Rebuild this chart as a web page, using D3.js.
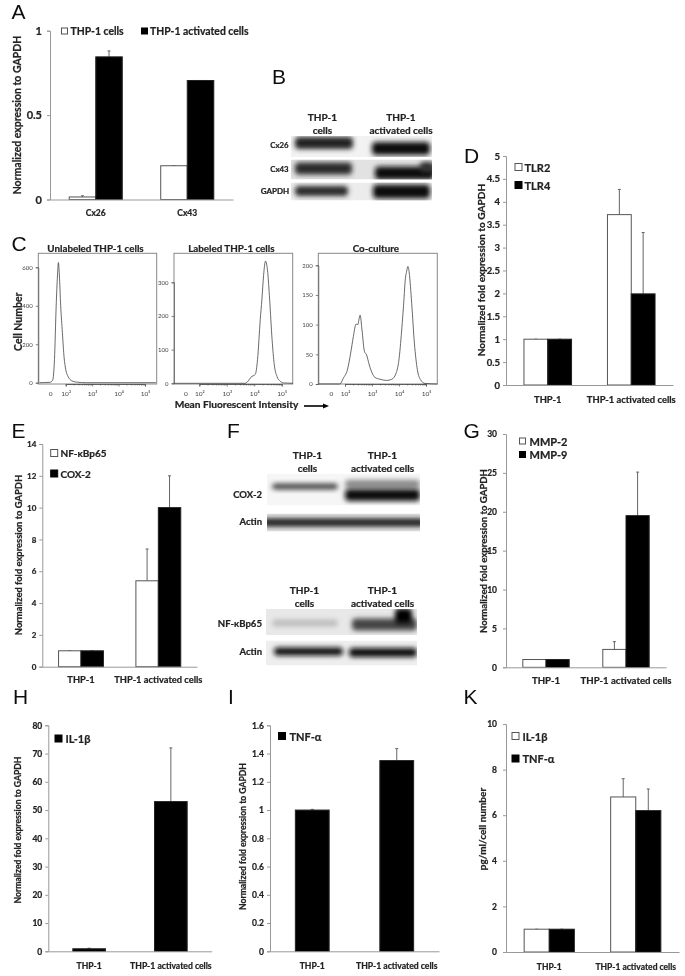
<!DOCTYPE html>
<html>
<head>
    <style>
        html,
        body {
            width: 100%;
            height: 100%;
            margin: 0;
            padding: 0;
            overflow: hidden;
            background: #fff;
        }
        text {
            font-family: Lato, "Open Sans", sans-serif;
            font-weight: 700;
            fill: #222;
            stroke: #222;
            stroke-width: 0.22px;
        }
    </style>
</head>
<body>
<script src="https://d3js.org/d3.v7.min.js"></script>
<script>
    const width = 685;
    const height = 976;

    // A
    const cxCategories = ["Cx26", "Cx43"];
    const cxSeries = ["THP-1 cells", "THP-1 activated cells"];
    const cxValues = [[0.015, 0.2], [0.845, 0.705]];
    const cxErrors = [[0.022, 0.2], [0.88, 0.705]];
    const cxTicks = [0, 0.5, 1];

    const cellCategories = ["THP-1", "THP-1 activated cells"];

    // D
    const tlrSeries = ["TLR2", "TLR4"];
    const tlrValues = [[1, 3.72], [1, 1.99]];
    const tlrErrors = [[1, 4.27], [1, 3.33]];
    const tlrTicks = [0, 0.5, 1, 1.5, 2, 2.5, 3, 3.5, 4, 4.5, 5];

    // E
    const nfSeries = ["NF-κBp65", "COX-2"];
    const nfValues = [[1, 5.4], [1, 10]];
    const nfErrors = [[1, 7.4], [1, 12]];
    const nfTicks = [0, 2, 4, 6, 8, 10, 12, 14];

    // G
    const mmpSeries = ["MMP-2", "MMP-9"];
    const mmpValues = [[1, 2.3], [1, 19.5]];
    const mmpErrors = [[1, 3.3], [1, 25.1]];
    const mmpTicks = [0, 5, 10, 15, 20, 25, 30];

    // H
    const il1Series = ["IL-1β"];
    const il1Values = [[0.9, 53]];
    const il1Errors = [[1.1, 72]];
    const il1Ticks = [0, 10, 20, 30, 40, 50, 60, 70, 80];

    // I
    const tnfSeries = ["TNF-α"];
    const tnfValues = [[1, 1.35]];
    const tnfErrors = [[1.005, 1.435]];
    const tnfTicks = [0, 0.2, 0.4, 0.6, 0.8, 1, 1.2, 1.4, 1.6];

    // K
    const elisaSeries = ["IL-1β", "TNF-α"];
    const elisaValues = [[1, 6.8], [1, 6.2]];
    const elisaErrors = [[1, 7.6], [1, 7.15]];
    const elisaTicks = [0, 2, 4, 6, 8, 10];

    // C, x is in decades: 2 means 10^2
    const unlabeledDecades = [1.01, 1.41, 1.51, 1.575, 1.64, 1.69, 1.725, 1.76, 1.81, 1.875, 1.94, 2, 2.1, 2.225, 2.41, 2.79, 5.41];
    const unlabeledCounts = [0, 2, 15, 120, 400, 560, 625, 560, 400, 260, 130, 70, 30, 10, 3, 0, 0];
    const labeledDecades = [1.07, 3.67, 3.79, 3.88, 4.04, 4.12, 4.22, 4.28, 4.34, 4.41, 4.49, 4.56, 4.65, 4.73, 4.83, 4.95, 5.07, 5.41];
    const labeledCounts = [0, 0, 8, 18, 27, 70, 190, 250, 320, 363, 330, 250, 130, 55, 20, 6, 1, 0];
    const cocultureDecades = [1.01, 1.81, 1.94, 2.09, 2.21, 2.31, 2.41, 2.47, 2.56, 2.63, 2.72, 2.8, 2.9, 3, 3.11, 3.3, 3.54, 3.73, 3.89, 3.99, 4.1, 4.19, 4.23, 4.28, 4.33, 4.38, 4.47, 4.57, 4.68, 4.8, 4.96, 5.42];
    const cocultureCounts = [0, 0, 10, 24, 52, 80, 101, 100, 116, 91, 55, 49, 32, 19, 11, 8, 6, 8, 18, 38, 91, 147, 175, 189, 198, 187, 136, 69, 24, 7, 1, 0];
    const flowDecadeTicks = [2, 3, 4, 5];
    const flowDecadeLabels = ["10²", "10³", "10⁴", "10⁵"];
    const flowMinorFactors = [2, 3, 4, 5, 6, 7, 8, 9];
    const unlabeledTicks = [0, 200, 400, 600];
    const labeledTicks = [0, 100, 200, 300];
    const cocultureTicks = [0, 50, 100, 150, 200];

    const svg = d3.select("body")
        .append("svg")
        .attr("width", width)
        .attr("height", height);

    const defs = svg.append("defs");
    const addBlur = (id, dev) => defs.append("filter")
        .attr("id", id)
        .attr("x", "-30%").attr("y", "-60%").attr("width", "160%").attr("height", "220%")
        .append("feGaussianBlur").attr("stdDeviation", dev);
    addBlur("soft", 0.35);
    addBlur("blot", 2.4);

    const root = svg.append("g").attr("filter", "url(#soft)");

    function label(x, y, txt, size, anchor = "middle", rotate = false) {
        const t = root.append("text")
            .attr("font-size", size)
            .attr("text-anchor", anchor)
            .attr("dominant-baseline", "central")
            .text(txt);
        if (rotate) t.attr("transform", `translate(${x},${y}) rotate(-90)`);
        else t.attr("x", x).attr("y", y);
        return t;
    }

    function panelLetter(x, y, txt) {
        root.append("text")
            .attr("x", x).attr("y", y)
            .attr("font-size", 21)
            .style("font-family", "'Liberation Sans', sans-serif")
            .style("font-weight", 400)
            .style("fill", "#111")
            .style("stroke", "none")
            .text(txt);
    }

    // one grouped bar panel, p holds the frame and the data arrays
    function barPanel(p) {
        const g = root.append("g");
        const x = d3.scaleBand().domain(p.categories).range([p.x0, p.x1])
            .paddingInner(p.pad).paddingOuter(p.pad / 2);
        const inner = d3.scaleBand().domain(d3.range(p.values.length)).range([0, x.bandwidth()]);
        const y = d3.scaleLinear().domain([0, p.ticks[p.ticks.length - 1]]).range([p.y0, p.y1]);

        const rows = p.values.flatMap((vals, s) => vals.map((v, c) => ({
            s, v, err: p.errors[s][c], cat: p.categories[c]
        })));

        // error bars first, bars sit on top
        g.selectAll(".err").data(rows).join("path")
            .attr("fill", "none")
            .attr("stroke", "#666")
            .attr("stroke-width", 1)
            .attr("d", d => {
                const cx = x(d.cat) + inner(d.s) + inner.bandwidth() / 2;
                return `M${cx},${y(d.v)}V${y(d.err)}M${cx - 1.5},${y(d.err)}H${cx + 1.5}`;
            });

        g.selectAll(".bar").data(rows).join("rect")
            .attr("x", d => x(d.cat) + inner(d.s))
            .attr("width", inner.bandwidth())
            .attr("y", d => y(d.v))
            .attr("height", d => y(0) - y(d.v))
            .attr("fill", d => p.fills[d.s])
            .attr("stroke", d => p.fills[d.s] === "#000" ? "#222" : "#555")
            .attr("stroke-width", 1);

        const yAxis = g.append("g")
            .attr("transform", `translate(${p.x0},0)`)
            .call(d3.axisLeft(y).tickValues(p.ticks).tickSize(3).tickFormat(d => d));
        yAxis.selectAll("text").attr("font-size", p.tickSize).attr("dx", p.tickDx || 0);

        const xAxis = g.append("g")
            .attr("transform", `translate(0,${p.y0})`)
            .call(d3.axisBottom(x).tickSize(0).tickPadding(p.catPad));
        xAxis.selectAll("text").attr("font-size", p.catSize);

        g.selectAll(".domain, .tick line").attr("stroke", "#999");

        label(p.labelX, p.labelY, p.yLabel, p.labelSize, "middle", true);

        p.legend.forEach((l, i) => {
            g.append("rect")
                .attr("x", l[0]).attr("y", l[1] - p.swatch / 2)
                .attr("width", p.swatch).attr("height", p.swatch)
                .attr("fill", p.fills[i])
                .attr("stroke", p.fills[i] === "#000" ? "#000" : "#555");
            label(l[2], l[1], p.series[i], p.legendSize, "start");
        });
    }

    const fold = "Normalized fold expression to GAPDH";
    const wb = ["#fff", "#000"];

    barPanel({categories: cxCategories, series: cxSeries, values: cxValues, errors: cxErrors, ticks: cxTicks,
        fills: wb, x0: 50, x1: 233, y0: 199.5, y1: 30.7, pad: 0.42, tickSize: 11, catSize: 8.5, catPad: 10, tickDx: -2,
        yLabel: "Normalized expression to GAPDH", labelX: 17, labelY: 115, labelSize: 10.5,
        legend: [[61.5, 31, 70.5], [141.5, 31, 150]], legendSize: 10.4, swatch: 6});
    barPanel({categories: cellCategories, series: tlrSeries, values: tlrValues, errors: tlrErrors, ticks: tlrTicks,
        fills: wb, x0: 506, x1: 673, y0: 385, y1: 156, pad: 0.43, tickSize: 9.5, catSize: 9.4, catPad: 11,
        yLabel: fold, labelX: 481, labelY: 270, labelSize: 10.1,
        legend: [[515, 167, 524.5], [515, 185, 524.5]], legendSize: 11, swatch: 7});
    barPanel({categories: cellCategories, series: nfSeries, values: nfValues, errors: nfErrors, ticks: nfTicks,
        fills: wb, x0: 42.3, x1: 197, y0: 666.7, y1: 444, pad: 0.42, tickSize: 8, catSize: 9.3, catPad: 10,
        yLabel: fold, labelX: 18, labelY: 555, labelSize: 9.4,
        legend: [[50.7, 453, 60.5], [50.7, 473.5, 60.5]], legendSize: 10, swatch: 7});
    barPanel({categories: cellCategories, series: mmpSeries, values: mmpValues, errors: mmpErrors, ticks: mmpTicks,
        fills: wb, x0: 506, x1: 666, y0: 667.3, y1: 434, pad: 0.42, tickSize: 8.5, catSize: 9.6, catPad: 10, tickDx: -3,
        yLabel: fold, labelX: 483, labelY: 551, labelSize: 9.6,
        legend: [[519.5, 441, 529.5], [519.5, 454.5, 529.5]], legendSize: 11, swatch: 6});
    barPanel({categories: cellCategories, series: il1Series, values: il1Values, errors: il1Errors, ticks: il1Ticks,
        fills: ["#000"], x0: 48.3, x1: 211.7, y0: 951.3, y1: 725.3, pad: 0.6, tickSize: 8.5, catSize: 8.6, catPad: 12,
        yLabel: fold, labelX: 18, labelY: 830, labelSize: 8.6,
        legend: [[55, 738.5, 65.5]], legendSize: 11, swatch: 7});
    barPanel({categories: cellCategories, series: tnfSeries, values: tnfValues, errors: tnfErrors, ticks: tnfTicks,
        fills: ["#000"], x0: 270, x1: 439, y0: 951.3, y1: 725.3, pad: 0.6, tickSize: 8.5, catSize: 8.6, catPad: 12,
        yLabel: fold, labelX: 243, labelY: 836.5, labelSize: 8.6,
        legend: [[278.5, 736, 289.5]], legendSize: 11, swatch: 7});
    barPanel({categories: cellCategories, series: elisaSeries, values: elisaValues, errors: elisaErrors, ticks: elisaTicks,
        fills: wb, x0: 506, x1: 679, y0: 952, y1: 724, pad: 0.42, tickSize: 8.5, catSize: 8.5, catPad: 12, tickDx: -3,
        yLabel: "pg/ml/cell number", labelX: 482, labelY: 829, labelSize: 10,
        legend: [[512, 736, 522.5], [512, 758.5, 522.5]], legendSize: 11, swatch: 7});

    // flow cytometry histograms
    function flowPanel(p) {
        const g = root.append("g");
        const x = d3.scaleLinear().domain([2, 5]).range([p.x2, p.x5]);
        const y = d3.scaleLinear().domain([0, p.ticks[p.ticks.length - 1]]).range([p.yZero, p.yTop]);

        g.append("rect")
            .attr("x", p.left).attr("y", 253.3)
            .attr("width", p.right - p.left).attr("height", 384 - 253.3)
            .attr("fill", "#fff").attr("stroke", "#888");

        const line = d3.line().x(d => x(d[0])).y(d => y(d[1])).curve(d3.curveMonotoneX);
        g.append("path")
            .datum(d3.zip(p.decades, p.counts))
            .attr("d", line)
            .attr("fill", "none")
            .attr("stroke", "#444")
            .attr("stroke-width", 0.8);

        const bottom = g.append("g")
            .attr("transform", "translate(0,384)")
            .call(d3.axisBottom(x).tickValues(flowDecadeTicks).tickSize(2.5).tickPadding(5)
                .tickFormat((d, i) => flowDecadeLabels[i]));
        bottom.selectAll("text").attr("font-size", 6.5).style("font-weight", 400).style("fill", "#444").style("stroke", "none");
        bottom.append("text")
            .attr("x", p.xZero).attr("y", 7.5)
            .attr("dy", "0.71em")
            .attr("text-anchor", "middle")
            .attr("font-size", 6.5)
            .style("font-weight", 400)
            .style("fill", "#444")
            .style("stroke", "none")
            .text("0");

        // small log ticks inside the decades
        const minor = flowDecadeTicks.slice(0, 3).flatMap(d => flowMinorFactors.map(f => d + Math.log10(f)));
        g.append("g")
            .attr("transform", "translate(0,384)")
            .call(d3.axisBottom(x).tickValues(minor).tickSize(1.5).tickFormat(""));

        const left = g.append("g")
            .attr("transform", `translate(${p.left},0)`)
            .call(d3.axisLeft(y).tickValues(p.ticks).tickSize(2.5).tickFormat(d => d));
        left.selectAll("text").attr("font-size", 6).style("font-weight", 400).style("fill", "#444").style("stroke", "none");
        g.selectAll(".domain, .tick line").attr("stroke", "#555").attr("stroke-width", 0.7);

        label((p.left + p.right) / 2 - 2, 247.5, p.title, 9.8);
    }

    flowPanel({title: "Unlabeled THP-1 cells", decades: unlabeledDecades, counts: unlabeledCounts, ticks: unlabeledTicks,
        left: 38.3, right: 156.7, x2: 65.7, x5: 145, xZero: 50.7, yZero: 382.7, yTop: 267.3});
    flowPanel({title: "Labeled THP-1 cells", decades: labeledDecades, counts: labeledCounts, ticks: labeledTicks,
        left: 174, right: 292.7, x2: 199.3, x5: 281.7, xZero: 186, yZero: 383.3, yTop: 282.3});
    flowPanel({title: "Co-culture", decades: cocultureDecades, counts: cocultureCounts, ticks: cocultureTicks,
        left: 318.3, right: 437.3, x2: 345, x5: 426, xZero: 331.3, yZero: 384, yTop: 265.3});

    label(18.3, 321.7, "Cell Number", 10.5, "middle", true);
    label(236.5, 404, "Mean Fluorescent Intensity", 10.2);
    root.append("path").attr("d", "M304,406H325").attr("stroke", "#000").attr("stroke-width", 1.6);
    root.append("path").attr("d", "M323,403.5L329,406L323,408.5Z").attr("fill", "#000");

    // western blot strips: background box with blurred bands, clipped to the box
    let stripId = 0;
    function blot(x, y, w, h, bg, bands) {
        const id = "strip" + stripId++;
        defs.append("clipPath").attr("id", id)
            .append("rect").attr("x", x).attr("y", y).attr("width", w).attr("height", h);
        const g = svg.append("g").attr("clip-path", `url(#${id})`);
        g.append("rect").attr("x", x).attr("y", y).attr("width", w).attr("height", h).attr("fill", bg);
        g.selectAll("rect.band").data(bands).join("rect")
            .attr("class", "band")
            .attr("x", d => d[0]).attr("width", d => d[1] - d[0])
            .attr("y", d => d[2] - d[3] / 2).attr("height", d => d[3])
            .attr("rx", 4)
            .attr("fill", d => d[4])
            .attr("filter", "url(#blot)");
    }

    // B
    blot(291, 136, 141, 21, "#f2f2f2", [[295, 353, 143, 12, "#222"], [372, 430, 148.5, 13, "#111"]]);
    blot(291, 159.5, 141, 20, "#e2e2e2", [[295, 352, 168.5, 12, "#2a2a2a"], [375, 434, 173, 13, "#111"], [420, 434, 167, 10, "#333"]]);
    blot(291, 182.5, 141, 18, "#ececec", [[295, 348, 191, 10, "#2a2a2a"], [373, 430, 191.5, 14, "#111"]]);
    label(322.5, 116.5, "THP-1", 10);
    label(322.5, 129.5, "cells", 10);
    label(401, 116.5, "THP-1", 10);
    label(401, 129.5, "activated cells", 10);
    label(279.5, 145, "Cx26", 7.8);
    label(279.5, 169, "Cx43", 7.8);
    label(275, 190.5, "GAPDH", 8);

    // F
    blot(267, 473.5, 153, 32, "#f6f6f6", [
        [272, 338, 486.5, 6, "#444"], [345, 420, 484, 8, "#888"], [345, 420, 495, 12, "#111"]]);
    blot(267, 513.5, 153, 18, "#e4e4e4", [[262, 425, 522.5, 8, "#1a1a1a"]]);
    blot(266, 609, 151, 26, "#e8e8e8", [
        [272, 338, 623, 7, "#bdbdbd"], [352, 417, 624.5, 12, "#444"], [395, 412, 616, 15, "#000"]]);
    blot(266, 640.5, 151, 25, "#eeeeee", [[274, 343, 651.5, 8, "#111"], [349, 417, 652.5, 9, "#111"]]);
    label(307.5, 455, "THP-1", 10);
    label(307.5, 468, "cells", 10);
    label(382.5, 455, "THP-1", 10);
    label(382.5, 468, "activated cells", 10);
    label(304.5, 589.5, "THP-1", 10);
    label(304.5, 602.5, "cells", 10);
    label(382.5, 589.5, "THP-1", 10);
    label(382.5, 602.5, "activated cells", 10);
    label(262, 494, "COX-2", 9.5, "end");
    label(262, 521.5, "Actin", 9.5, "end");
    label(262, 623, "NF-κBp65", 9.6, "end");
    label(262, 651.5, "Actin", 9.5, "end");

    panelLetter(11.5, 19, "A");
    panelLetter(272, 84, "B");
    panelLetter(11.5, 251, "C");
    panelLetter(464, 162.5, "D");
    panelLetter(11.5, 437.5, "E");
    panelLetter(227, 438, "F");
    panelLetter(463.5, 437.5, "G");
    panelLetter(13, 704, "H");
    panelLetter(228, 704, "I");
    panelLetter(463.5, 704, "K");
</script>
</body>
</html>
